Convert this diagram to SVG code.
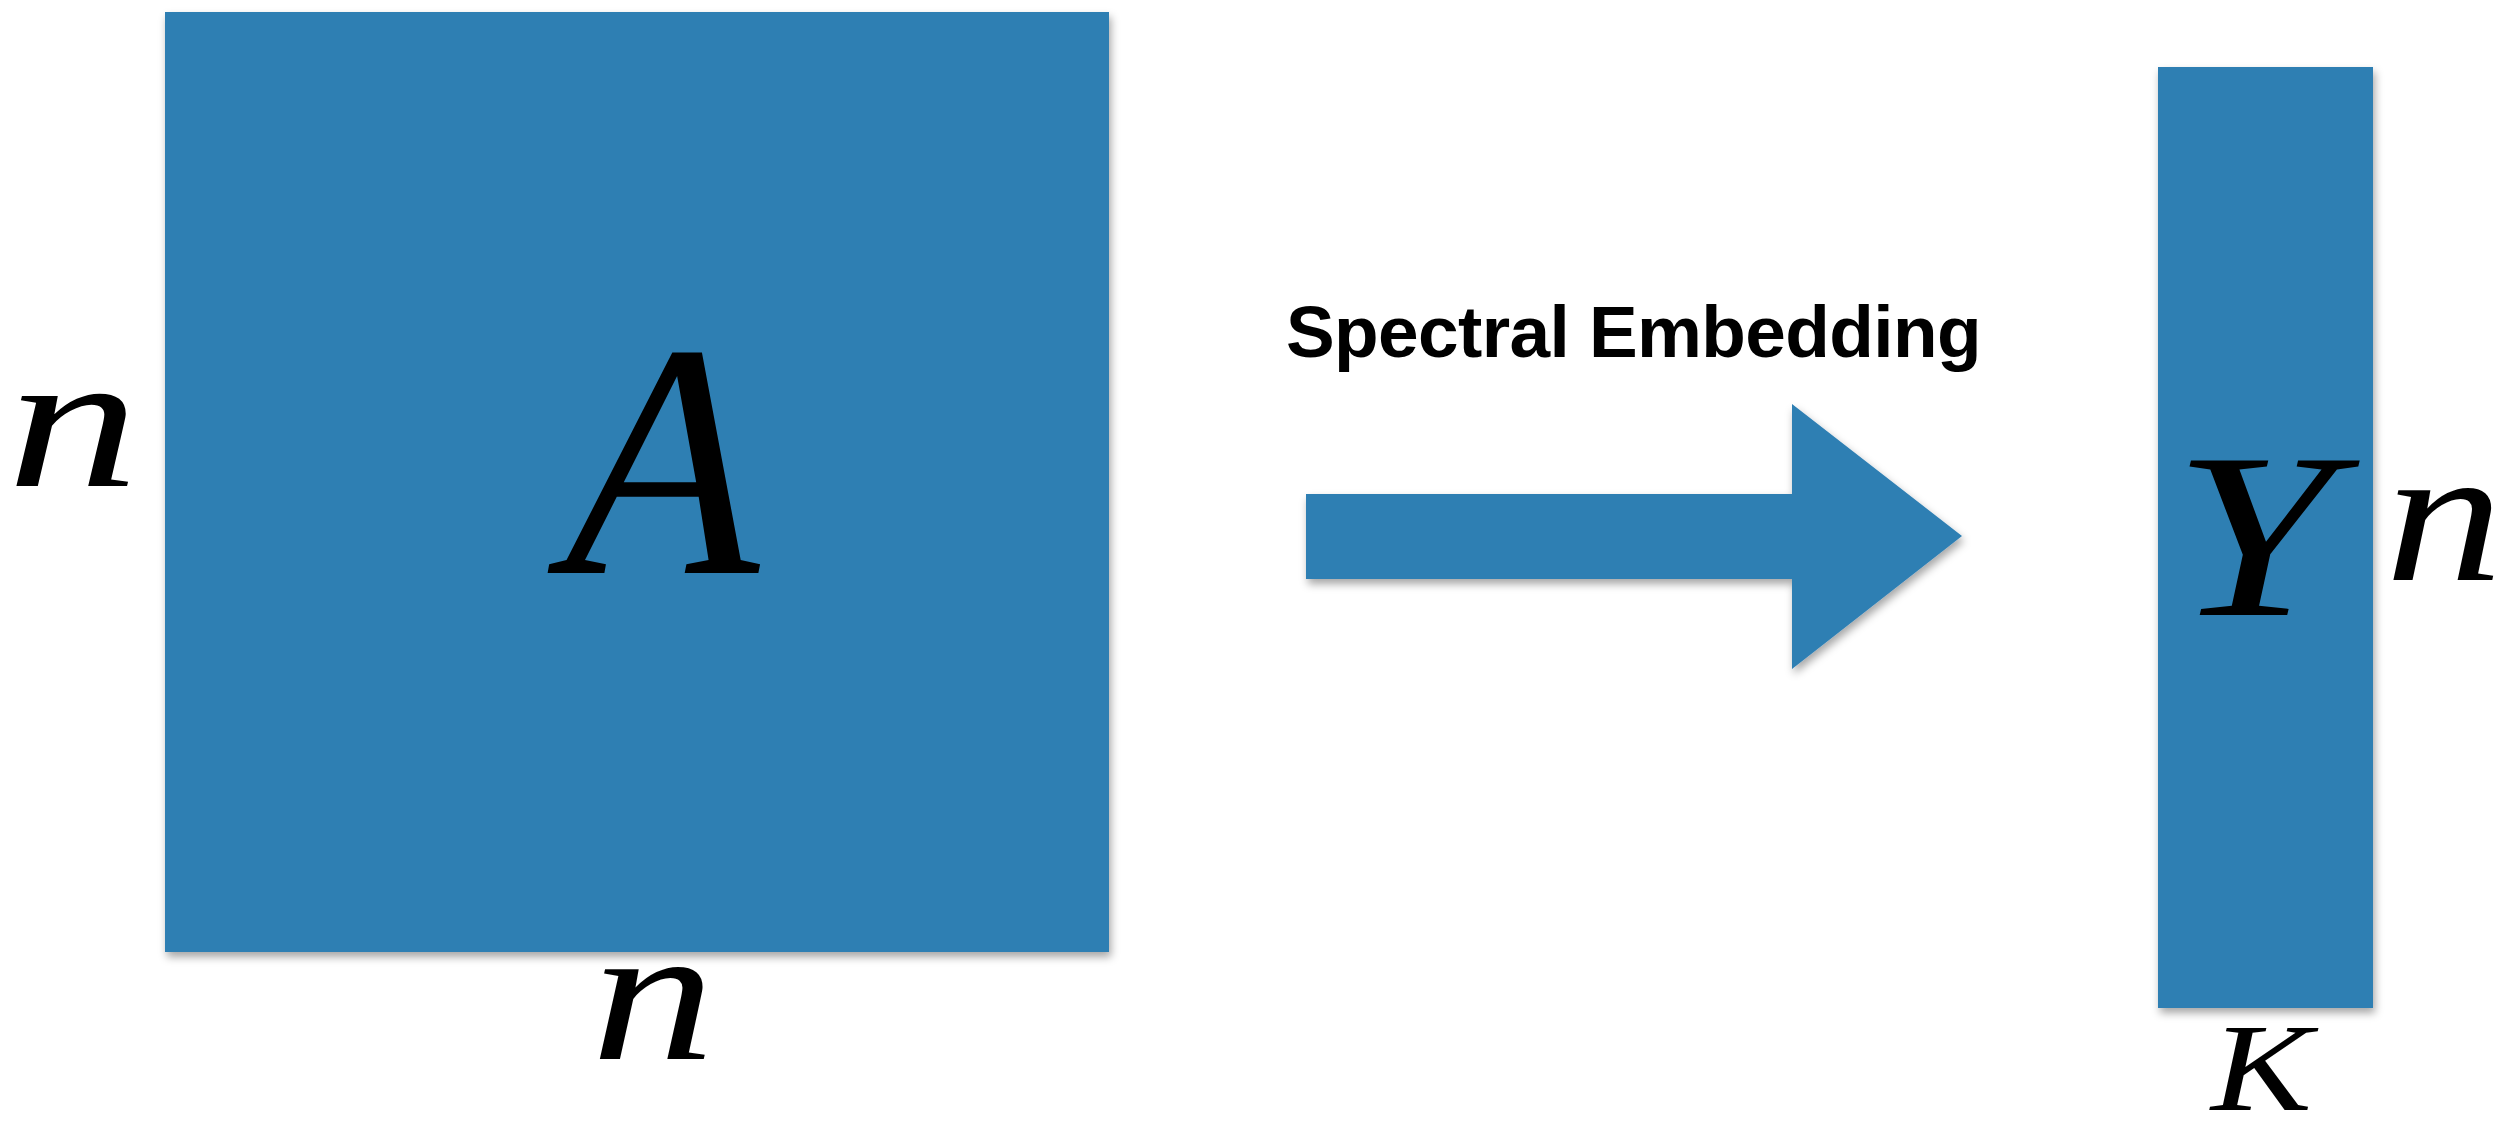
<svg xmlns="http://www.w3.org/2000/svg" width="2501" height="1138" viewBox="0 0 2501 1138">
  <defs>
    <filter id="shadow" x="-5%" y="-5%" width="115%" height="115%">
      <feDropShadow dx="2" dy="5" stdDeviation="4" flood-color="#000" flood-opacity="0.35"/>
    </filter>
  </defs>
  <style>
    .block { fill: #2f7fb3; filter: url(#shadow); }
    .math { font-family: "Liberation Serif", "Times New Roman", serif; font-style: italic; fill: #000; }
    .label { font-family: "Liberation Sans", Arial, Helvetica, sans-serif; font-weight: bold; fill: #000; }
  </style>
  <rect width="2501" height="1138" fill="#ffffff"/>

  <g id="matrix-A">
    <rect class="block" x="165" y="12" width="944" height="940"/>
    <text class="math" x="565" y="573" font-size="334" textLength="194" lengthAdjust="spacingAndGlyphs">A</text>
  </g>

  <g id="label-n-left">
    <text class="math" x="7" y="486" font-size="196" textLength="132" lengthAdjust="spacingAndGlyphs">n</text>
  </g>

  <g id="label-n-bottom">
    <text class="math" x="591" y="1059" font-size="196" textLength="124" lengthAdjust="spacingAndGlyphs">n</text>
  </g>

  <g id="connectors">
    <polygon id="arrow" class="block" points="1306,494 1792,494 1792,404 1962,536 1792,669 1792,579 1306,579"/>
    <text class="label" x="1286" y="357" font-size="73" letter-spacing="-0.6">Spectral Embedding</text>
  </g>

  <g id="matrix-Y">
    <rect class="block" x="2158" y="67" width="215" height="941"/>
    <text class="math" x="2173" y="615" font-size="236" textLength="161" lengthAdjust="spacingAndGlyphs">Y</text>
  </g>

  <g id="label-n-right">
    <text class="math" x="2385" y="580" font-size="196" textLength="118" lengthAdjust="spacingAndGlyphs">n</text>
  </g>

  <g id="label-K">
    <text class="math" x="2211" y="1110" font-size="124" textLength="101" lengthAdjust="spacingAndGlyphs">K</text>
  </g>
</svg>
